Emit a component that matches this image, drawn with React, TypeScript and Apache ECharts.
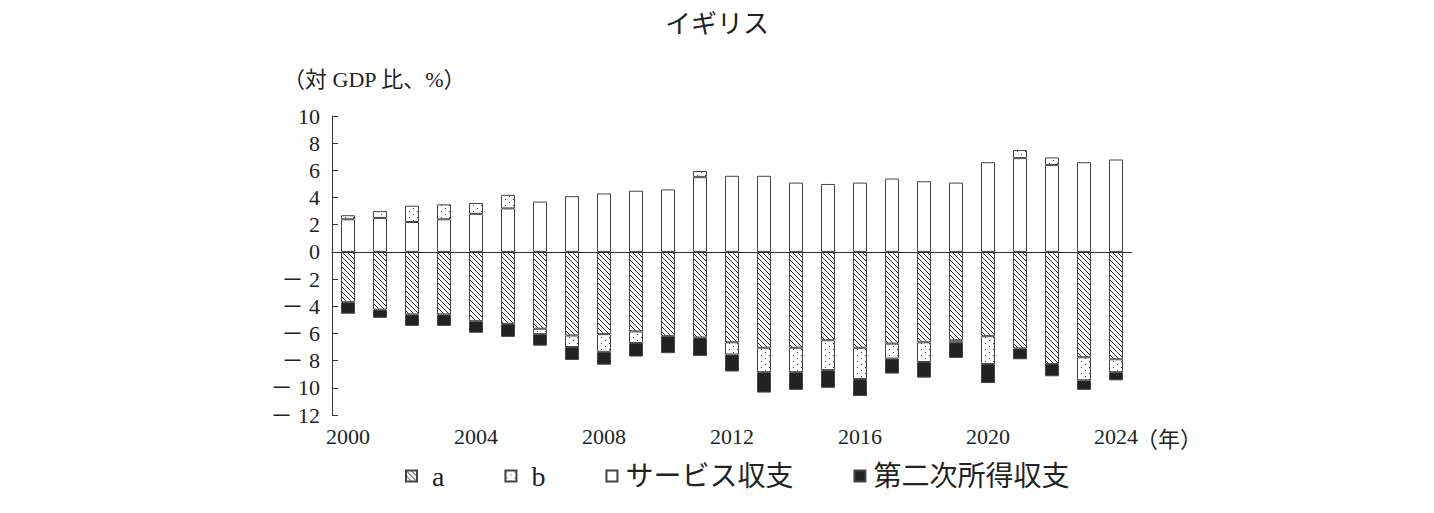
import React, { useEffect, useRef } from 'react';
import * as echarts from 'echarts';

const years = [
  '2000', '2001', '2002', '2003', '2004', '2005', '2006', '2007', '2008', '2009', '2010', '2011', '2012',
  '2013', '2014', '2015', '2016', '2017', '2018', '2019', '2020', '2021', '2022', '2023', '2024'
];

// a（ハッチ）
const aValues = [
  -3.7, -4.25, -4.6, -4.6, -5.1, -5.3, -5.65, -6.15, -6.05, -5.85, -6.2, -6.3, -6.65,
  -7.05, -7.05, -6.5, -7.05, -6.75, -6.65, -6.5, -6.2, -7.1, -8.25, -7.75, -7.9
];
// b（ドット）: プラスはサービス収支の上、マイナスは a の下に積む
const bValues = [
  0.3, 0.5, 1.2, 1.1, 0.8, 1.0, -0.4, -0.85, -1.3, -0.85, null, 0.45, -0.9,
  -1.8, -1.8, -2.2, -2.3, -1.1, -1.45, -0.15, -2.05, 0.6, 0.55, -1.7, -0.95
];
const serviceValues = [
  2.4, 2.5, 2.2, 2.4, 2.8, 3.2, 3.7, 4.1, 4.3, 4.5, 4.6, 5.5, 5.6,
  5.6, 5.1, 5.0, 5.1, 5.4, 5.2, 5.1, 6.6, 6.9, 6.4, 6.6, 6.8
];
const secondaryValues = [
  -0.85, -0.6, -0.85, -0.85, -0.85, -0.95, -0.85, -0.95, -0.95, -1.0, -1.25, -1.35, -1.25,
  -1.5, -1.3, -1.3, -1.25, -1.1, -1.15, -1.15, -1.4, -0.8, -0.9, -0.7, -0.6
];

const legendNames = ['a', 'b', 'サービス収支', '第二次所得収支'];

const FONT = "'Liberation Serif', 'Noto Sans CJK JP', serif";

const makeHatch = () => {
  const c = document.createElement('canvas');
  c.width = 5;
  c.height = 5;
  const ctx = c.getContext('2d')!;
  ctx.fillStyle = '#fff';
  ctx.fillRect(0, 0, 5, 5);
  ctx.fillStyle = '#333';
  for (let i = 0; i < 5; i++) ctx.fillRect(i, i, 1, 1);
  return c;
};

const makeDots = () => {
  const c = document.createElement('canvas');
  c.width = 8;
  c.height = 6;
  const ctx = c.getContext('2d')!;
  ctx.fillStyle = '#fff';
  ctx.fillRect(0, 0, 8, 6);
  ctx.fillStyle = '#444';
  ctx.fillRect(1, 1, 1, 1);
  ctx.fillRect(5, 4, 1, 1);
  return c;
};

const App: React.FC = () => {
  const chartRef = useRef<HTMLDivElement>(null);

  useEffect(() => {
    if (!chartRef.current) return;
    const chart = echarts.init(chartRef.current, null, { renderer: 'svg' });

    const border = { borderColor: '#444', borderWidth: 1 };

    const option: echarts.EChartsOption = {
      animation: false,
      backgroundColor: '#fff',
      textStyle: { fontFamily: FONT, color: '#222' },
      title: {
        text: 'イギリス',
        left: 'center',
        top: 6,
        textStyle: { fontFamily: FONT, fontSize: 26, fontWeight: 'normal', color: '#222' }
      },
      legend: {
        data: legendNames,
        left: 400,
        top: 457,
        itemWidth: 11,
        itemHeight: 11,
        itemGap: 60,
        icon: 'rect',
        formatter: (name: string) => (name === 'a' || name === 'b' ? ` ${name}` : name),
        textStyle: { fontFamily: FONT, fontSize: 28, color: '#222', padding: [0, 0, 0, 3] }
      },
      grid: { left: 332, right: 302, top: 116, bottom: 98 },
      xAxis: {
        type: 'category',
        data: years,
        axisLine: { lineStyle: { color: '#333', width: 1 } },
        axisTick: { interval: 3, inside: true, length: 6, alignWithLabel: true, lineStyle: { color: '#333' } },
        axisLabel: { interval: 3, fontSize: 22, color: '#222', fontFamily: FONT, margin: 10 }
      },
      yAxis: {
        type: 'value',
        min: -12,
        max: 10,
        interval: 2,
        splitLine: { show: false },
        axisLine: { show: true, lineStyle: { color: '#333', width: 1 } },
        axisTick: { show: true, inside: true, length: 6, lineStyle: { color: '#333' } },
        axisLabel: {
          fontSize: 22,
          color: '#222',
          fontFamily: FONT,
          margin: 12,
          formatter: (v: number) => (v < 0 ? `－ ${-v}` : `${v}`)
        }
      },
      graphic: [
        {
          type: 'text',
          left: 283,
          top: 68,
          style: { text: '（対 GDP 比、%）', font: `22px ${FONT}`, fill: '#222' }
        },
        {
          type: 'text',
          left: 1136,
          top: 428,
          style: { text: '（年）', font: `22px ${FONT}`, fill: '#222' }
        }
      ],
      series: [
        {
          name: 'a',
          type: 'bar',
          stack: 'total',
          barWidth: 14,
          data: aValues,
          itemStyle: { color: { image: makeHatch(), repeat: 'repeat' } as any, ...border },
          markLine: {
            silent: true,
            symbol: ['none', 'none'],
            label: { show: false },
            lineStyle: { color: '#333', width: 1, type: 'solid' },
            data: [{ yAxis: 0 }]
          }
        },
        {
          name: 'サービス収支',
          type: 'bar',
          stack: 'total',
          barWidth: 14,
          data: serviceValues,
          itemStyle: { color: '#fff', ...border }
        },
        {
          name: 'b',
          type: 'bar',
          stack: 'total',
          barWidth: 14,
          data: bValues,
          itemStyle: { color: { image: makeDots(), repeat: 'repeat' } as any, ...border }
        },
        {
          name: '第二次所得収支',
          type: 'bar',
          stack: 'total',
          barWidth: 14,
          data: secondaryValues,
          itemStyle: { color: '#222', ...border }
        }
      ]
    };

    chart.setOption(option);
    return () => chart.dispose();
  }, []);

  return (
    <div
      ref={chartRef}
      style={{ position: 'fixed', left: 0, top: 0, width: 1434, height: 513 }}
    />
  );
};

export default App;
